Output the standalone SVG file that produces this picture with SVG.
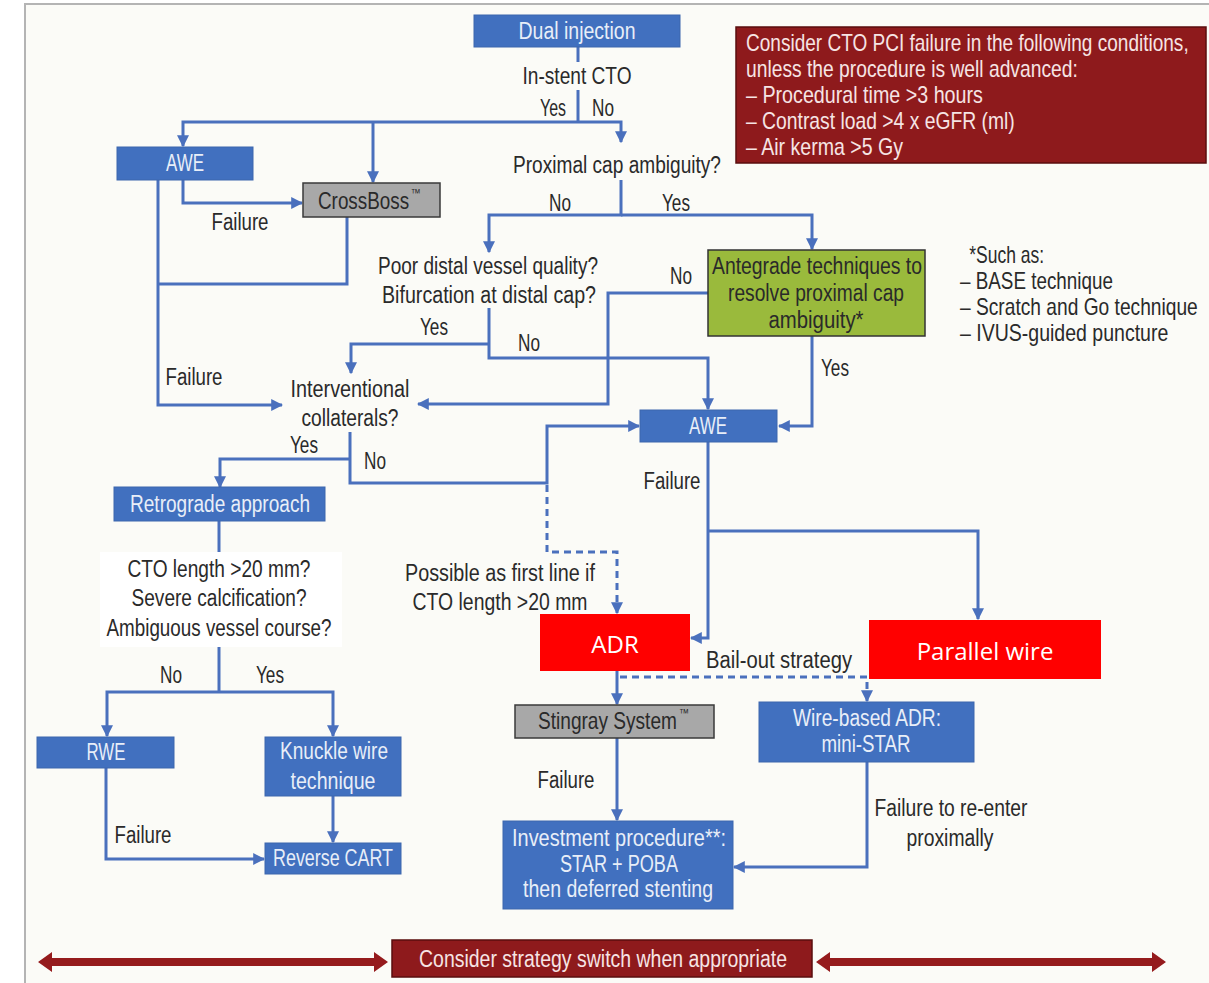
<svg xmlns="http://www.w3.org/2000/svg" width="1209" height="983" viewBox="0 0 1209 983">
  <defs>
    <marker id="arr" markerUnits="userSpaceOnUse" markerWidth="12" markerHeight="12" viewBox="0 0 10 10" refX="9" refY="5" orient="auto">
      <path d="M0,0 L10,5 L0,10 z" fill="#4a70bd"/>
    </marker>
    <style>
      text { font-family: "Liberation Sans", Arial, sans-serif; font-size: 23px; fill: #2a2a2a; text-anchor: middle; dominant-baseline: central; }
      .w { fill: #e8eef8; }
      .lt { text-anchor: start; }
      .tm { font-size: 12px; text-anchor: start; }
      .pk { fill: #f6e4e4; text-anchor: start; }
      .pkc { fill: #f6e4e4; }
      .cal { font-family: "Open Sans", "Noto Sans", sans-serif; font-size: 24px; fill: #ffffff; }
      .blue { fill: #4170bf; stroke: #3d66ad; stroke-width: 1; }
      .gray { fill: #a8a8a8; stroke: #3a3a3a; stroke-width: 1.5; }
      .green { fill: #9aba3c; stroke: #333; stroke-width: 1.5; }
      .red { fill: #ff0000; }
      .maroon { fill: #8e1a1c; stroke: #5a0e0e; stroke-width: 1.5; }
      .c { fill: none; stroke: #4a70bd; stroke-width: 3; }
      .d { stroke-dasharray: 7 5; }
    </style>
  </defs>

  <!-- page -->
  <rect x="0" y="0" width="1209" height="983" fill="#ffffff"/>
  <rect x="25" y="4" width="1184" height="979" fill="#fbfbf7"/>
  <path d="M25,983 V4 H1209" fill="none" stroke="#b4b4b4" stroke-width="2"/>

  <!-- connectors -->
  <g id="connectors">
    <path class="c" d="M578,47 V62"/>
    <path class="c" d="M578,90 V122"/>
    <path class="c" d="M578,122 H183 V146" marker-end="url(#arr)"/>
    <path class="c" d="M373,122 V182" marker-end="url(#arr)"/>
    <path class="c" d="M578,122 H621 V142" marker-end="url(#arr)"/>
    <path class="c" d="M183,180 V203 H302" marker-end="url(#arr)"/>
    <path class="c" d="M158,180 V405 H282" marker-end="url(#arr)"/>
    <path class="c" d="M347,217 V284 H158"/>
    <path class="c" d="M621,180 V215 H489 V252" marker-end="url(#arr)"/>
    <path class="c" d="M621,215 H812 V249" marker-end="url(#arr)"/>
    <path class="c" d="M489,308 V358 H708 V409" marker-end="url(#arr)"/>
    <path class="c" d="M489,344 H351 V373" marker-end="url(#arr)"/>
    <path class="c" d="M708,293 H608 V404 H418" marker-end="url(#arr)"/>
    <path class="c" d="M812,336 V426 H779" marker-end="url(#arr)"/>
    <path class="c" d="M350,432 V483 H547 V426 H639" marker-end="url(#arr)"/>
    <path class="c" d="M350,459 H220 V487" marker-end="url(#arr)"/>
    <path class="c d" d="M547,485 V552 H617 V613" marker-end="url(#arr)"/>
    <path class="c" d="M708,442 V638 H691" marker-end="url(#arr)"/>
    <path class="c" d="M708,531 H978 V619" marker-end="url(#arr)"/>
    <path class="c" d="M617,671 V704" marker-end="url(#arr)"/>
    <path class="c d" d="M620,677 H867 V701" marker-end="url(#arr)"/>
    <path class="c" d="M617,738 V820" marker-end="url(#arr)"/>
    <path class="c" d="M867,762 V867 H734" marker-end="url(#arr)"/>
    <path class="c" d="M219,521 V552"/>
    <path class="c" d="M219,647 V692"/>
    <path class="c" d="M219,692 H107 V736" marker-end="url(#arr)"/>
    <path class="c" d="M219,692 H333 V736" marker-end="url(#arr)"/>
    <path class="c" d="M333,796 V842" marker-end="url(#arr)"/>
    <path class="c" d="M106,768 V859 H264" marker-end="url(#arr)"/>
  </g>

  <!-- edge labels -->
  <g id="edge-labels">
    <text x="553" y="108" textLength="26" lengthAdjust="spacingAndGlyphs">Yes</text>
    <text x="603" y="108" textLength="22" lengthAdjust="spacingAndGlyphs">No</text>
    <text x="560" y="203" textLength="22" lengthAdjust="spacingAndGlyphs">No</text>
    <text x="676" y="203" textLength="28" lengthAdjust="spacingAndGlyphs">Yes</text>
    <text x="240" y="222" textLength="57" lengthAdjust="spacingAndGlyphs">Failure</text>
    <text x="681" y="276" textLength="22" lengthAdjust="spacingAndGlyphs">No</text>
    <text x="434" y="327" textLength="28" lengthAdjust="spacingAndGlyphs">Yes</text>
    <text x="529" y="343" textLength="22" lengthAdjust="spacingAndGlyphs">No</text>
    <text x="194" y="377" textLength="57" lengthAdjust="spacingAndGlyphs">Failure</text>
    <text x="835" y="368" textLength="28" lengthAdjust="spacingAndGlyphs">Yes</text>
    <text x="304" y="445" textLength="28" lengthAdjust="spacingAndGlyphs">Yes</text>
    <text x="375" y="461" textLength="22" lengthAdjust="spacingAndGlyphs">No</text>
    <text x="672" y="481" textLength="57" lengthAdjust="spacingAndGlyphs">Failure</text>
    <text x="500" y="573" textLength="190" lengthAdjust="spacingAndGlyphs">Possible as first line if</text>
    <text x="500" y="602" textLength="175" lengthAdjust="spacingAndGlyphs">CTO length &gt;20 mm</text>
    <text x="779" y="660" textLength="146" lengthAdjust="spacingAndGlyphs">Bail-out strategy</text>
    <text x="171" y="675" textLength="22" lengthAdjust="spacingAndGlyphs">No</text>
    <text x="270" y="675" textLength="28" lengthAdjust="spacingAndGlyphs">Yes</text>
    <text x="566" y="780" textLength="57" lengthAdjust="spacingAndGlyphs">Failure</text>
    <text x="951" y="808" textLength="153" lengthAdjust="spacingAndGlyphs">Failure to re-enter</text>
    <text x="950" y="838" textLength="87" lengthAdjust="spacingAndGlyphs">proximally</text>
    <text x="143" y="835" textLength="57" lengthAdjust="spacingAndGlyphs">Failure</text>
  </g>

  <!-- nodes -->
  <g id="dual-injection">
    <rect class="blue" x="474" y="15" width="206" height="32"/>
    <text class="w" x="577" y="31" textLength="117" lengthAdjust="spacingAndGlyphs">Dual injection</text>
  </g>
  <g id="in-stent-cto">
    <text x="577" y="76" textLength="109" lengthAdjust="spacingAndGlyphs">In-stent CTO</text>
  </g>
  <g id="proximal-cap">
    <text x="617" y="165" textLength="208" lengthAdjust="spacingAndGlyphs">Proximal cap ambiguity?</text>
  </g>
  <g id="awe-top">
    <rect class="blue" x="117" y="147" width="136" height="33"/>
    <text class="w" x="185" y="163" textLength="38" lengthAdjust="spacingAndGlyphs">AWE</text>
  </g>
  <g id="crossboss">
    <rect class="gray" x="303" y="183" width="137" height="34"/>
    <g transform="translate(318 0) scale(0.82 1)">
      <text class="lt" x="0" y="201">CrossBoss</text>
      <text class="tm" x="113" y="193">™</text>
    </g>
  </g>
  <g id="distal-quality">
    <text x="488" y="266" textLength="220" lengthAdjust="spacingAndGlyphs">Poor distal vessel quality?</text>
    <text x="489" y="295" textLength="214" lengthAdjust="spacingAndGlyphs">Bifurcation at distal cap?</text>
  </g>
  <g id="antegrade-techniques">
    <rect class="green" x="708" y="250" width="217" height="86"/>
    <text x="817" y="266" textLength="210" lengthAdjust="spacingAndGlyphs">Antegrade techniques to</text>
    <text x="816" y="293" textLength="176" lengthAdjust="spacingAndGlyphs">resolve proximal cap</text>
    <text x="816" y="320" textLength="95" lengthAdjust="spacingAndGlyphs">ambiguity*</text>
  </g>
  <g id="interventional-collaterals">
    <text x="350" y="389" textLength="119" lengthAdjust="spacingAndGlyphs">Interventional</text>
    <text x="350" y="418" textLength="97" lengthAdjust="spacingAndGlyphs">collaterals?</text>
  </g>
  <g id="awe-mid">
    <rect class="blue" x="640" y="410" width="137" height="32"/>
    <text class="w" x="708" y="426" textLength="38" lengthAdjust="spacingAndGlyphs">AWE</text>
  </g>
  <g id="retrograde">
    <rect class="blue" x="114" y="487" width="211" height="34"/>
    <text class="w" x="220" y="504" textLength="180" lengthAdjust="spacingAndGlyphs">Retrograde approach</text>
  </g>
  <g id="retrograde-criteria">
    <rect x="100" y="552" width="242" height="95" fill="#ffffff"/>
    <text x="219" y="569" textLength="183" lengthAdjust="spacingAndGlyphs">CTO length &gt;20 mm?</text>
    <text x="219" y="598" textLength="175" lengthAdjust="spacingAndGlyphs">Severe calcification?</text>
    <text x="219" y="628" textLength="225" lengthAdjust="spacingAndGlyphs">Ambiguous vessel course?</text>
  </g>
  <g id="adr">
    <rect class="red" x="540" y="614" width="150" height="57"/>
    <text class="cal" x="615" y="643">ADR</text>
  </g>
  <g id="parallel-wire">
    <rect class="red" x="869" y="620" width="232" height="59"/>
    <text class="cal" x="985" y="650">Parallel wire</text>
  </g>
  <g id="stingray">
    <rect class="gray" x="515" y="705" width="199" height="33"/>
    <g transform="translate(538 0) scale(0.83 1)">
      <text class="lt" x="0" y="721">Stingray System</text>
      <text class="tm" x="170" y="713">™</text>
    </g>
  </g>
  <g id="wire-based-adr">
    <rect class="blue" x="759" y="702" width="215" height="60"/>
    <text class="w" x="867" y="718" textLength="148" lengthAdjust="spacingAndGlyphs">Wire-based ADR:</text>
    <text class="w" x="866" y="744" textLength="89" lengthAdjust="spacingAndGlyphs">mini-STAR</text>
  </g>
  <g id="investment">
    <rect class="blue" x="503" y="821" width="230" height="88"/>
    <text class="w" x="619" y="838" textLength="214" lengthAdjust="spacingAndGlyphs">Investment procedure**:</text>
    <text class="w" x="619" y="864" textLength="118" lengthAdjust="spacingAndGlyphs">STAR + POBA</text>
    <text class="w" x="618" y="889" textLength="190" lengthAdjust="spacingAndGlyphs">then deferred stenting</text>
  </g>
  <g id="rwe">
    <rect class="blue" x="37" y="737" width="137" height="31"/>
    <text class="w" x="106" y="752" textLength="39" lengthAdjust="spacingAndGlyphs">RWE</text>
  </g>
  <g id="knuckle-wire">
    <rect class="blue" x="265" y="737" width="136" height="59"/>
    <text class="w" x="334" y="751" textLength="108" lengthAdjust="spacingAndGlyphs">Knuckle wire</text>
    <text class="w" x="333" y="781" textLength="85" lengthAdjust="spacingAndGlyphs">technique</text>
  </g>
  <g id="reverse-cart">
    <rect class="blue" x="265" y="843" width="136" height="31"/>
    <text class="w" x="333" y="858" textLength="120" lengthAdjust="spacingAndGlyphs">Reverse CART</text>
  </g>

  <!-- failure criteria: condensed horizontally -->
  <g id="failure-criteria">
    <rect class="maroon" x="736" y="27" width="470" height="136"/>
    <g transform="translate(746 0) scale(0.84 1)">
      <text class="pk" x="0" y="43" textLength="527" lengthAdjust="spacingAndGlyphs">Consider CTO PCI failure in the following conditions,</text>
      <text class="pk" x="0" y="69" textLength="395" lengthAdjust="spacingAndGlyphs">unless the procedure is well advanced:</text>
      <text class="pk" x="0" y="95" textLength="282" lengthAdjust="spacingAndGlyphs">– Procedural time &gt;3 hours</text>
      <text class="pk" x="0" y="121" textLength="320" lengthAdjust="spacingAndGlyphs">– Contrast load &gt;4 x eGFR (ml)</text>
      <text class="pk" x="0" y="147" textLength="187" lengthAdjust="spacingAndGlyphs">– Air kerma &gt;5 Gy</text>
    </g>
  </g>

  <!-- footnote: condensed horizontally -->
  <g id="footnote">
    <g transform="translate(960 0) scale(0.84 1)">
      <text class="lt" x="11" y="255" textLength="89" lengthAdjust="spacingAndGlyphs">*Such as:</text>
      <text class="lt" x="0" y="281" textLength="182" lengthAdjust="spacingAndGlyphs">– BASE technique</text>
      <text class="lt" x="0" y="307" textLength="283" lengthAdjust="spacingAndGlyphs">– Scratch and Go technique</text>
      <text class="lt" x="0" y="333" textLength="248" lengthAdjust="spacingAndGlyphs">– IVUS-guided puncture</text>
    </g>
  </g>

  <!-- strategy switch bar -->
  <g id="strategy-switch">
    <path d="M38,962 L52,952 L52,958 L374,958 L374,952 L388,962 L374,972 L374,966 L52,966 L52,972 z" fill="#951b1d"/>
    <path d="M816,962 L830,952 L830,958 L1152,958 L1152,952 L1166,962 L1152,972 L1152,966 L830,966 L830,972 z" fill="#951b1d"/>
    <rect class="maroon" x="392" y="940" width="420" height="37"/>
    <text class="pkc" x="603" y="959" textLength="368" lengthAdjust="spacingAndGlyphs">Consider strategy switch when appropriate</text>
  </g>
</svg>
